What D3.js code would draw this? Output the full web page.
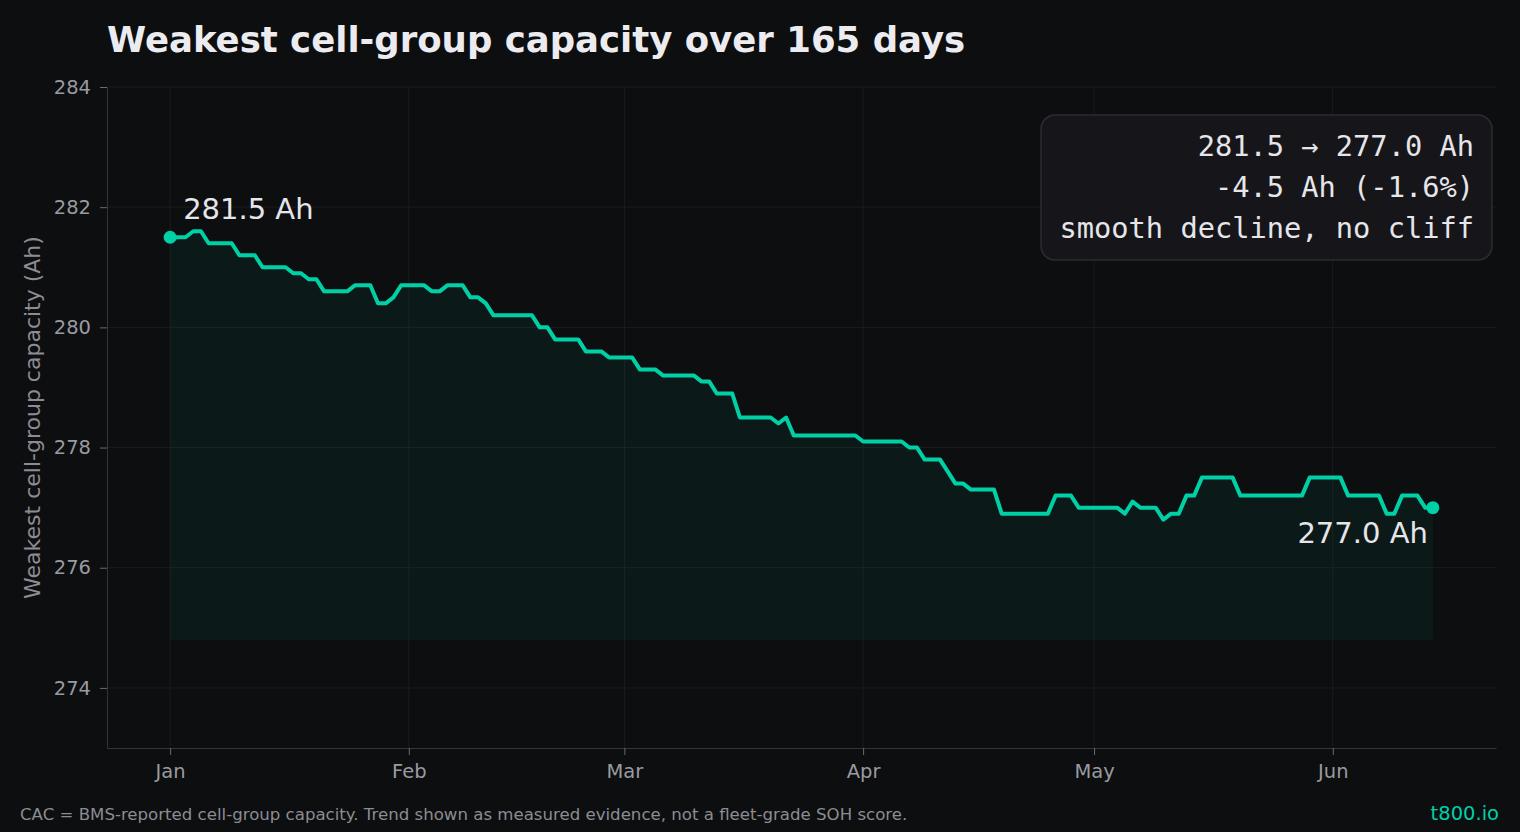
<!DOCTYPE html>
<html>
<head>
<meta charset="utf-8">
<script src="https://cdn.jsdelivr.net/npm/d3@7"></script>
<style>
    html, body { margin: 0; padding: 0; background: #0d0e10; }
    svg { display: block; }
</style>
</head>
<body>
<div id="chart"></div>
<script>
// daily readings, one per day starting 1 Jan
const startDay = '2025-01-01';
const capacity = [
    281.5, 281.5, 281.5, 281.6, 281.6, 281.4, 281.4, 281.4, 281.4, 281.2,
    281.2, 281.2, 281.0, 281.0, 281.0, 281.0, 280.9, 280.9, 280.8, 280.8,
    280.6, 280.6, 280.6, 280.6, 280.7, 280.7, 280.7, 280.4, 280.4, 280.5,
    280.7, 280.7, 280.7, 280.7, 280.6, 280.6, 280.7, 280.7, 280.7, 280.5,
    280.5, 280.4, 280.2, 280.2, 280.2, 280.2, 280.2, 280.2, 280.0, 280.0,
    279.8, 279.8, 279.8, 279.8, 279.6, 279.6, 279.6, 279.5, 279.5, 279.5,
    279.5, 279.3, 279.3, 279.3, 279.2, 279.2, 279.2, 279.2, 279.2, 279.1,
    279.1, 278.9, 278.9, 278.9, 278.5, 278.5, 278.5, 278.5, 278.5, 278.4,
    278.5, 278.2, 278.2, 278.2, 278.2, 278.2, 278.2, 278.2, 278.2, 278.2,
    278.1, 278.1, 278.1, 278.1, 278.1, 278.1, 278.0, 278.0, 277.8, 277.8,
    277.8, 277.6, 277.4, 277.4, 277.3, 277.3, 277.3, 277.3, 276.9, 276.9,
    276.9, 276.9, 276.9, 276.9, 276.9, 277.2, 277.2, 277.2, 277.0, 277.0,
    277.0, 277.0, 277.0, 277.0, 276.9, 277.1, 277.0, 277.0, 277.0, 276.8,
    276.9, 276.9, 277.2, 277.2, 277.5, 277.5, 277.5, 277.5, 277.5, 277.2,
    277.2, 277.2, 277.2, 277.2, 277.2, 277.2, 277.2, 277.2, 277.5, 277.5,
    277.5, 277.5, 277.5, 277.2, 277.2, 277.2, 277.2, 277.2, 276.9, 276.9,
    277.2, 277.2, 277.2, 277.0, 277.0
];
const yTicks = [274, 276, 278, 280, 282, 284];
const monthTicks = ['2025-01-01', '2025-02-01', '2025-03-01', '2025-04-01', '2025-05-01', '2025-06-01'];
const monthLabels = ['Jan', 'Feb', 'Mar', 'Apr', 'May', 'Jun'];
const boxLines = ['281.5 \u2192 277.0 Ah', '-4.5 Ah (-1.6%)', 'smooth decline, no cliff'];
const areaFloor = 274.8;

const W = 1520, H = 832;
const margin = {top: 87, right: 24, bottom: 84, left: 107};
const teal = '#00d0a6';
const sans = 'DejaVu Sans, sans-serif';

let parse = d3.utcParse('%Y-%m-%d');
let t0 = parse(startDay);
let data = capacity.map((v, i) => ({date: d3.utcDay.offset(t0, i), value: v}));

let svg = d3.select('#chart').append('svg')
    .attr('width', W)
    .attr('height', H)
    .style('background', '#0d0e10');

let width = W - margin.left - margin.right;
let height = H - margin.top - margin.bottom;

// 5% padding either side like a default autoscale
let first = data[0].date, last = data[data.length - 1].date;
let pad = (last - first) * 0.05;
let x = d3.scaleUtc()
    .domain([new Date(+first - pad), new Date(+last + pad)])
    .range([0, width]);
let y = d3.scaleLinear().domain([273, 284]).range([height, 0]);

let plot = svg.append('g')
    .attr('transform', 'translate(' + margin.left + ',' + margin.top + ')');

// grid
plot.append('g').selectAll('line.h').data(yTicks).enter().append('line')
    .attr('x1', 0).attr('x2', width)
    .attr('y1', d => y(d)).attr('y2', d => y(d))
    .attr('stroke', '#1b1c1f').attr('stroke-width', 1);
plot.append('g').selectAll('line.v').data(monthTicks).enter().append('line')
    .attr('x1', d => x(parse(d))).attr('x2', d => x(parse(d)))
    .attr('y1', 0).attr('y2', height)
    .attr('stroke', '#1b1c1f').attr('stroke-width', 1);

// area + line
let area = d3.area()
    .x(d => x(d.date))
    .y0(y(areaFloor))
    .y1(d => y(d.value));
plot.append('path').datum(data)
    .attr('d', area)
    .attr('fill', teal)
    .attr('fill-opacity', 0.06);

let line = d3.line().x(d => x(d.date)).y(d => y(d.value));
plot.append('path').datum(data)
    .attr('d', line)
    .attr('fill', 'none')
    .attr('stroke', teal)
    .attr('stroke-width', 4)
    .attr('stroke-linejoin', 'round');

let ends = [data[0], data[data.length - 1]];
plot.selectAll('circle.end').data(ends).enter().append('circle')
    .attr('cx', d => x(d.date)).attr('cy', d => y(d.value))
    .attr('r', 6.5).attr('fill', teal);

plot.append('text')
    .attr('x', x(ends[0].date) + 13).attr('y', y(ends[0].value) - 18)
    .attr('fill', '#e6e6ea').style('font', '29px ' + sans)
    .text(ends[0].value.toFixed(1) + ' Ah');
plot.append('text')
    .attr('x', x(ends[1].date) - 5).attr('y', y(ends[1].value) + 35)
    .attr('text-anchor', 'end')
    .attr('fill', '#e6e6ea').style('font', '29px ' + sans)
    .text(ends[1].value.toFixed(1) + ' Ah');

// axes
let yAxis = plot.append('g')
    .call(d3.axisLeft(y).tickValues(yTicks).tickSize(7).tickPadding(9).tickSizeOuter(0));
let xAxis = plot.append('g')
    .attr('transform', 'translate(0,' + height + ')')
    .call(d3.axisBottom(x).tickValues(monthTicks.map(parse))
        .tickFormat((d, i) => monthLabels[i]).tickSize(7).tickPadding(9).tickSizeOuter(0));
[xAxis, yAxis].forEach(a => {
    a.select('.domain').attr('stroke', '#333438');
    a.selectAll('.tick line').attr('stroke', '#6a6a70');
    a.selectAll('.tick text').attr('fill', '#9a9aa0').style('font', '19.5px ' + sans);
});

// annotation box
let box = svg.append('g').attr('transform', 'translate(1041,115)');
box.append('rect')
    .attr('width', 451).attr('height', 145)
    .attr('rx', 14)
    .attr('fill', '#16161a')
    .attr('stroke', '#2c2c31').attr('stroke-width', 1.5);
box.selectAll('text').data(boxLines).enter().append('text')
    .attr('x', 433).attr('y', (d, i) => 41 + i * 41)
    .attr('text-anchor', 'end')
    .attr('fill', '#e6e6ea')
    .style('font', '28.7px DejaVu Sans Mono, monospace')
    .text(d => d);

// titles
svg.append('text')
    .attr('x', 107).attr('y', 52)
    .attr('fill', '#ececf0')
    .style('font', 'bold 35.5px ' + sans)
    .text('Weakest cell-group capacity over 165 days');
svg.append('text')
    .attr('transform', 'translate(40,' + (margin.top + height / 2) + ') rotate(-90)')
    .attr('text-anchor', 'middle')
    .attr('fill', '#8c8c92')
    .style('font', '22px ' + sans)
    .text('Weakest cell-group capacity (Ah)');
svg.append('text')
    .attr('x', 20).attr('y', 820)
    .attr('fill', '#8c8c92')
    .style('font', '16.6px ' + sans)
    .text('CAC = BMS-reported cell-group capacity. Trend shown as measured evidence, not a fleet-grade SOH score.');
svg.append('text')
    .attr('x', 1499).attr('y', 820)
    .attr('text-anchor', 'end')
    .attr('fill', teal)
    .style('font', '19.5px ' + sans)
    .text('t800.io');
</script>
</body>
</html>
